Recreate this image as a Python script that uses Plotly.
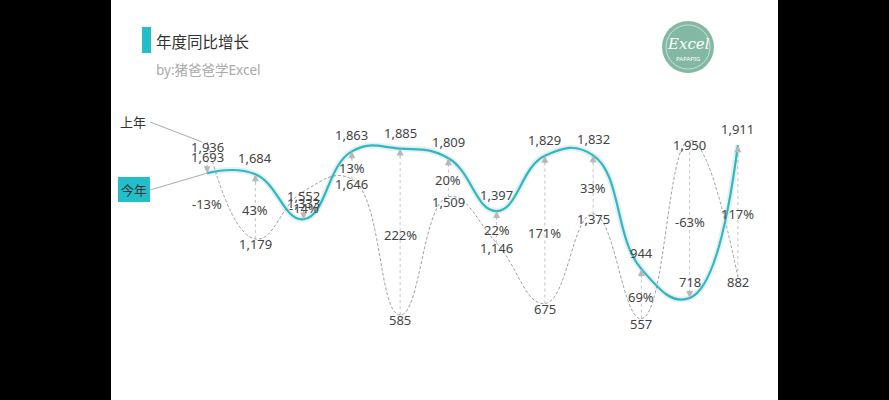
import plotly.graph_objects as go

# ---- data ----
categories = ["1月", "2月", "3月", "4月", "5月", "6月", "7月", "8月", "9月", "10月", "11月", "12月"]
this_year = [1693, 1684, 1333, 1863, 1885, 1809, 1397, 1829, 1832, 944, 718, 1911]
last_year = [1936, 1179, 1552, 1646, 585, 1509, 1146, 675, 1375, 557, 1950, 882]
title_text = "年度同比增长"
subtitle_text = "by:猪爸爸学Excel"
label_this = "今年"
label_last = "上年"

# ---- layout geometry (pixels) ----
W, H = 889, 400
ML, MR, MT, MB = 183, 127, 121, 10
YMAX = 2100
PW, PH = W - ML - MR, H - MT - MB

def px(x):  # pixel x -> paper
    return (x - ML) / PW

def py(y):  # pixel y -> paper
    return (H - MB - y) / PH

def dx(i):  # data category index -> pixel x
    return ML + (i + 0.5) / len(categories) * PW

def dy(v):
    return H - MB - v / YMAX * PH

CYAN = "#22BFCB"
LINE = "#2BBAC4"
FONT = "Noto Sans, Noto Sans CJK SC, sans-serif"
idx = list(range(len(categories)))

fig = go.Figure()

# arrow shafts (dotted)
sx, sy = [], []
for i, (t, l) in enumerate(zip(this_year, last_year)):
    sx += [i, i, None]
    sy += [l, t, None]
fig.add_trace(go.Scatter(x=sx, y=sy, mode="lines", hoverinfo="skip",
                         line=dict(color="#c4c4c4", width=1, dash="dot"), cliponaxis=False))

# last year dashed smooth line
fig.add_trace(go.Scatter(x=idx, y=last_year, mode="lines", name=label_last,
                         line=dict(color="#a0a0a0", width=1, dash="3px,2px", shape="spline", smoothing=1.3),
                         cliponaxis=False))
# this year shadow + line
fig.add_trace(go.Scatter(x=idx, y=this_year, mode="lines", hoverinfo="skip",
                         line=dict(color="rgba(120,150,150,0.16)", width=6, shape="spline", smoothing=1.3),
                         cliponaxis=False))
fig.add_trace(go.Scatter(x=idx, y=this_year, mode="lines", name=label_this,
                         line=dict(color=LINE, width=2.2, shape="spline", smoothing=1.3),
                         cliponaxis=False))

ann = []
for i, (t, l) in enumerate(zip(this_year, last_year)):
    up = t > l
    ann.append(dict(x=i, y=t, xref="x", yref="y", text="", showarrow=True,
                    ax=0, ay=(10 if up else -10), arrowhead=2, arrowsize=1.4,
                    arrowwidth=1, arrowcolor="#b8b8b8"))
    ann.append(dict(x=i, y=t, xref="x", yref="y", text=f"{t:,}", showarrow=False,
                    yshift=16, font=dict(family=FONT, size=13, color="#444")))
    ann.append(dict(x=i, y=l, xref="x", yref="y", text=f"{l:,}", showarrow=False,
                    yshift=-5, font=dict(family=FONT, size=13, color="#444")))
    pct = round((t / l - 1) * 100)
    if i == 0:
        # first label sits below the line in the reference
        ann.append(dict(x=i, y=t, xref="x", yref="y", text=f"{pct}%", showarrow=False,
                        yshift=-31, font=dict(family=FONT, size=13, color="#444")))
    else:
        ann.append(dict(x=i, y=(t + l) / 2, xref="x", yref="y", text=f"{pct}%", showarrow=False,
                        yshift=-3, font=dict(family=FONT, size=13, color="#444")))

# title etc.
ann.append(dict(x=px(154), y=py(42), xref="paper", yref="paper", text=title_text, showarrow=False,
                xanchor="left", yanchor="middle", font=dict(family=FONT, size=15.5, color="#333")))
ann.append(dict(x=px(154), y=py(70), xref="paper", yref="paper", text=subtitle_text, showarrow=False,
                xanchor="left", yanchor="middle", font=dict(family=FONT, size=13.5, color="#aaaaaa")))
ann.append(dict(x=px(133), y=py(122), xref="paper", yref="paper", text=label_last, showarrow=False,
                xanchor="center", yanchor="middle", font=dict(family=FONT, size=13, color="#333")))
ann.append(dict(x=px(134), y=py(190), xref="paper", yref="paper", text=label_this, showarrow=False,
                xanchor="center", yanchor="middle", font=dict(family=FONT, size=13, color="#333")))
# logo text
ann.append(dict(x=px(688), y=py(44), xref="paper", yref="paper", text="<i>Excel</i>", showarrow=False,
                xanchor="center", yanchor="middle", font=dict(family="DejaVu Serif", size=15, color="white")))
ann.append(dict(x=px(688), y=py(59), xref="paper", yref="paper", text="PAPAPIG", showarrow=False,
                xanchor="center", yanchor="middle", font=dict(family=FONT, size=6, color="white")))

shapes = [
    dict(type="rect", xref="paper", yref="paper", x0=px(111), x1=px(778), y0=py(0), y1=py(400),
         fillcolor="white", line=dict(width=0), layer="below"),
    dict(type="rect", xref="paper", yref="paper", x0=px(142), x1=px(151), y0=py(27), y1=py(53),
         fillcolor=CYAN, line=dict(width=0)),
    dict(type="rect", xref="paper", yref="paper", x0=px(118), x1=px(150), y0=py(177), y1=py(202),
         fillcolor=CYAN, line=dict(width=0)),
    dict(type="line", xref="paper", yref="paper", x0=px(150), y0=py(122), x1=px(dx(0) - 5), y1=py(dy(last_year[0])),
         line=dict(color="#aaaaaa", width=1)),
    dict(type="line", xref="paper", yref="paper", x0=px(150), y0=py(190), x1=px(dx(0)), y1=py(dy(this_year[0])),
         line=dict(color="#aaaaaa", width=1)),
    dict(type="circle", xref="paper", yref="paper", x0=px(662), x1=px(714), y0=py(21), y1=py(73),
         fillcolor="#83b9a4", line=dict(width=0)),
    dict(type="circle", xref="paper", yref="paper", x0=px(666), x1=px(710), y0=py(25), y1=py(69),
         fillcolor="rgba(0,0,0,0)", line=dict(color="rgba(255,255,255,0.7)", width=0.8)),
]

fig.update_layout(
    width=W, height=H,
    margin=dict(l=ML, r=MR, t=MT, b=MB),
    paper_bgcolor="black", plot_bgcolor="rgba(0,0,0,0)",
    showlegend=False,
    xaxis=dict(range=[-0.5, len(categories) - 0.5], visible=False, fixedrange=True),
    yaxis=dict(range=[0, YMAX], visible=False, fixedrange=True),
    annotations=ann, shapes=shapes,
    font=dict(family=FONT),
)

fig.write_html("out.html")
